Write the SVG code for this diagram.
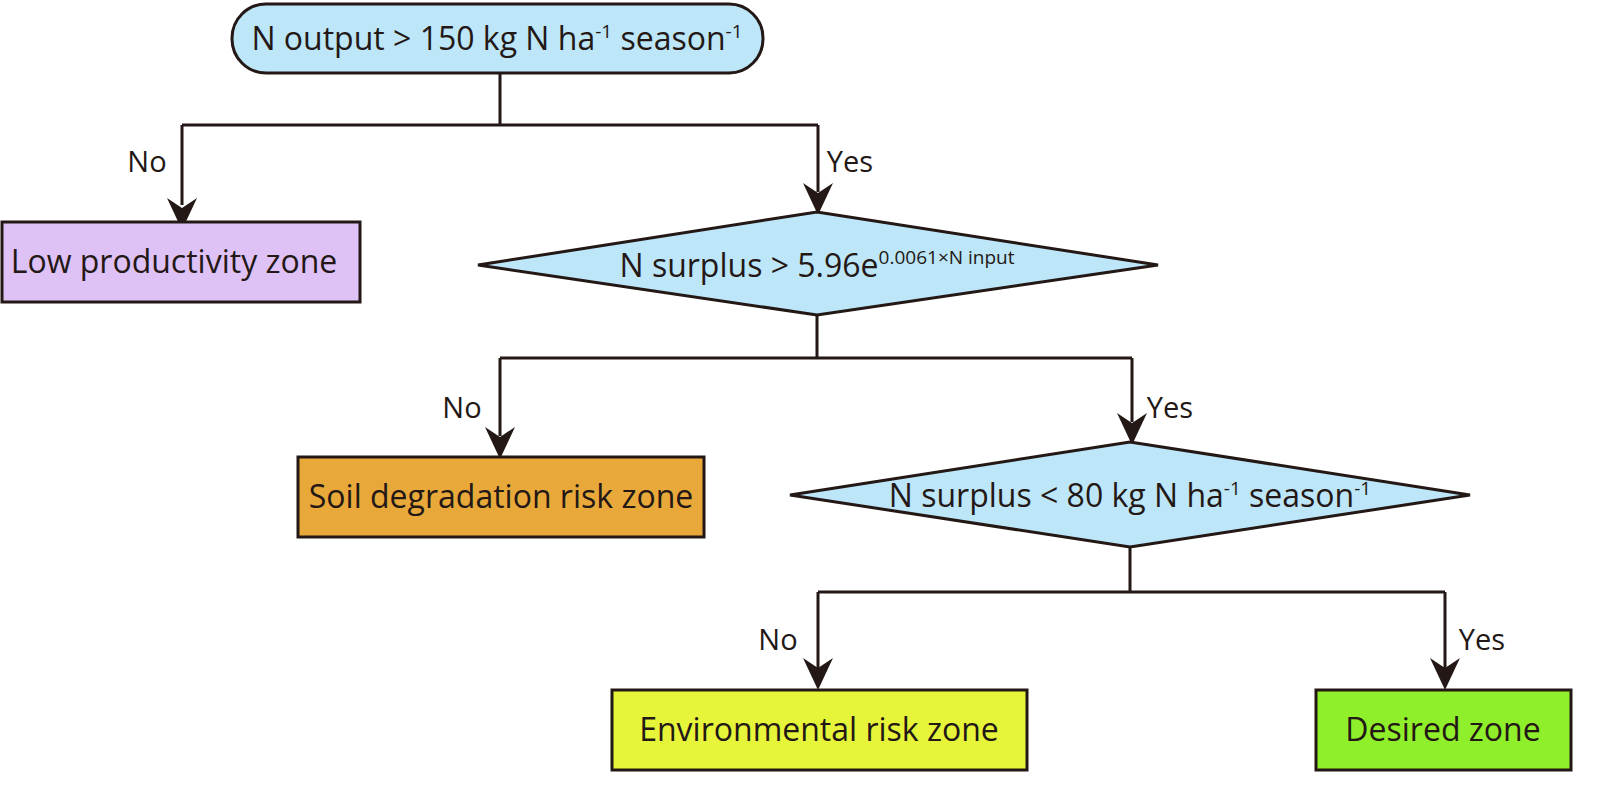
<svg xmlns="http://www.w3.org/2000/svg" width="1611" height="794" viewBox="0 0 1611 794">
<style>
.n{stroke:#231815;stroke-width:3}
.t{font-family:"Open Sans",sans-serif;font-size:32px;fill:#231815;text-anchor:middle}
.l{font-family:"Open Sans",sans-serif;font-size:29px;fill:#231815;text-anchor:middle}
.c{fill:none;stroke:#231815;stroke-width:3}
.s{font-size:19px}
</style>
<rect width="1611" height="794" fill="#fff"/>
<g id="connectors">
<path class="c" d="M500 73V125M182 125H818M182 125V205M818 125V192M817 315V358M500 358H1132M500 358V436M1132 358V422M1130 547V592M818 592H1445M818 592V668M1445 592V668"/>
<g fill="#231815">
<path d="M182 230L167 198L182 208L197 198Z"/>
<path d="M818 215L803 183L818 193L833 183Z"/>
<path d="M500 459L485 427L500 437L515 427Z"/>
<path d="M1132 445L1117 413L1132 423L1147 413Z"/>
<path d="M818 690L803 658L818 668L833 658Z"/>
<path d="M1445 690L1430 658L1445 668L1460 658Z"/>
</g>
<text class="l" x="147" y="172">No</text>
<text class="l" x="850" y="172">Yes</text>
<text class="l" x="462" y="418">No</text>
<text class="l" x="1170" y="418">Yes</text>
<text class="l" x="778" y="650">No</text>
<text class="l" x="1482" y="650">Yes</text>
</g>
<g id="start">
<rect class="n" x="232" y="4" width="531" height="69" rx="34" fill="#bde6f8"/>
<text class="t" x="497" y="50">N output &gt; 150 kg N ha<tspan class="s" dy="-12">-1</tspan><tspan dy="12"> season</tspan><tspan class="s" dy="-12">-1</tspan></text>
</g>
<g id="low">
<rect class="n" x="2" y="222" width="358" height="80" fill="#dfc2f5"/>
<text class="t" x="174" y="273">Low productivity zone</text>
</g>
<g id="d1">
<polygon class="n" points="478,265 817,212 1158,265 817,315" fill="#bde6f8"/>
<text class="t" x="817" y="277">N surplus &gt; 5.96e<tspan class="s" dy="-13">0.0061×N input</tspan></text>
</g>
<g id="soil">
<rect class="n" x="298" y="457" width="406" height="80" fill="#e8a93a"/>
<text class="t" x="501" y="508">Soil degradation risk zone</text>
</g>
<g id="d2">
<polygon class="n" points="790,495 1130,442 1470,495 1130,547" fill="#bde6f8"/>
<text class="t" x="1130" y="507">N surplus &lt; 80 kg N ha<tspan class="s" dy="-12">-1</tspan><tspan dy="12"> season</tspan><tspan class="s" dy="-12">-1</tspan></text>
</g>
<g id="env">
<rect class="n" x="612" y="690" width="415" height="80" fill="#e6f53a"/>
<text class="t" x="819" y="741">Environmental risk zone</text>
</g>
<g id="desired">
<rect class="n" x="1316" y="690" width="255" height="80" fill="#8fef2a"/>
<text class="t" x="1443" y="741">Desired zone</text>
</g>
</svg>
